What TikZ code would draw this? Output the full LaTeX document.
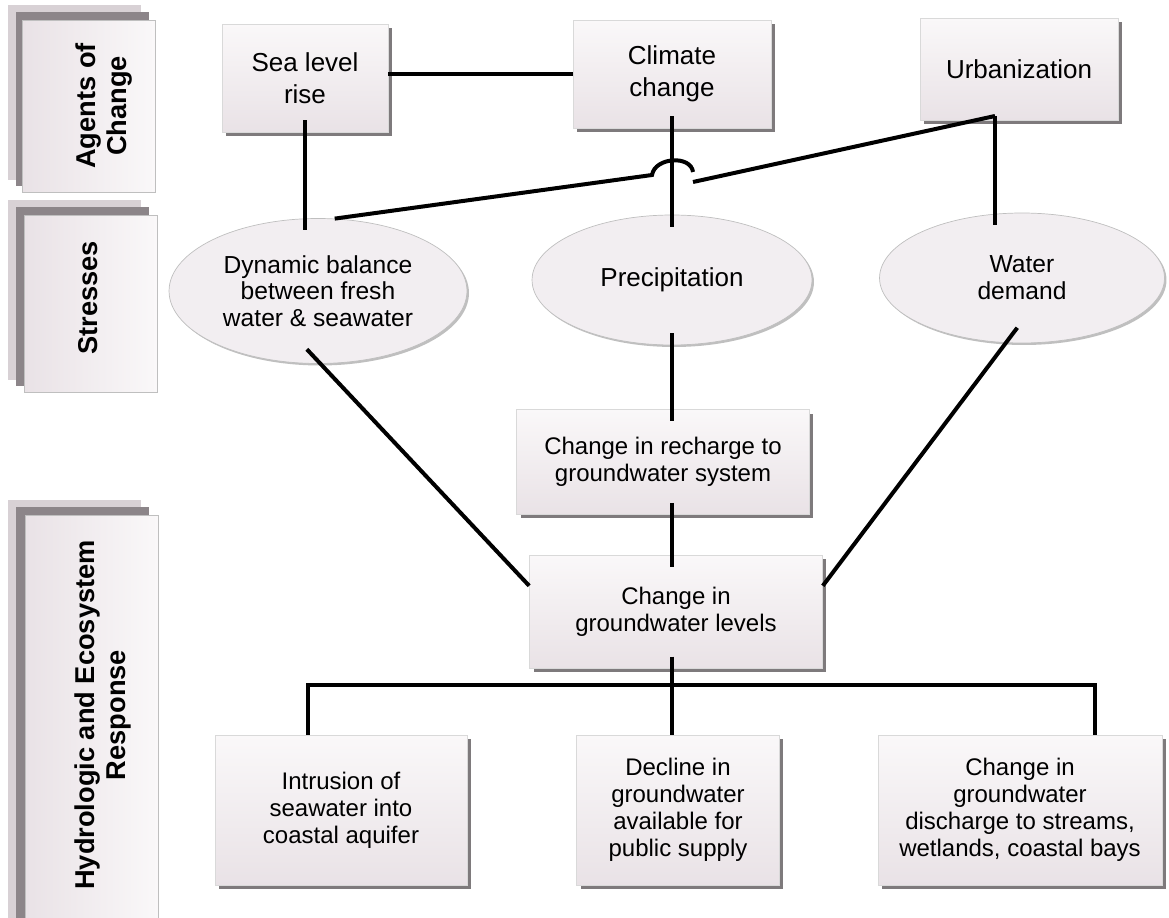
\documentclass[tikz,border=0pt]{standalone}
\usepackage{fontspec}
\setmainfont{Liberation Sans}
\usetikzlibrary{shapes,arrows,calc,positioning,shadows}
\definecolor{boxpink}{HTML}{E9E2E6}
\definecolor{boxtop}{HTML}{FAF8F9}
\definecolor{ovalpink}{HTML}{F2EEF1}
\definecolor{shadowgray}{HTML}{7E7A7C}
\definecolor{layerdark}{HTML}{8C8589}
\definecolor{layerlight}{HTML}{D8D1D5}
\tikzstyle{block} = [rectangle, draw=gray!30, top color=boxtop, bottom color=boxpink, align=center,
inner sep=0pt, drop shadow={shadow xshift=0.08cm, shadow yshift=-0.08cm, fill=shadowgray, opacity=1}]
\tikzstyle{agent} = [block, font=\fontsize{14.8}{18}\selectfont]
\tikzstyle{stress} = [ellipse, draw=gray!50, fill=ovalpink, align=center, inner sep=0pt,
font=\fontsize{14}{15.2}\selectfont,
drop shadow={shadow xshift=0.04cm, shadow yshift=-0.04cm, fill=gray!50, opacity=1}]
\tikzstyle{band} = [rectangle, draw=gray!50, rotate=90, left color=boxpink, right color=boxtop, inner sep=0pt]
\tikzstyle{bandlabel} = [rotate=90, align=center, font=\bfseries\fontsize{15.5}{17.5}\selectfont]
\tikzstyle{line} = [draw, line width=0.08cm]
\tikzstyle{into} = [shorten <=-0.24cm, shorten >=-0.24cm]

\begin{document}
\begin{tikzpicture}[x=0.02cm, y=-0.02cm, font=\fontsize{13.66}{15.4}\selectfont]
\useasboundingbox (0,0) rectangle (1169,918);

% stacked side bands
\foreach \top/\bot in {20/192, 215/392, 515/935} {
  \fill [layerlight] (8,{\top-15}) rectangle (141,{\bot-12});
  \fill [layerdark] (16,{\top-8}) rectangle (149,{\bot-6});
}
\node [band, minimum width=3.44cm, minimum height=2.66cm] (agents) at (88.5,106) {};
\node [band, minimum width=3.54cm, minimum height=2.66cm] (stresses) at (90.5,303.5) {};
\node [band, minimum width=8.4cm, minimum height=2.66cm] (response) at (91.5,725) {};
\node [bandlabel] (agents text) at (104,106) {Agents of\\Change};
\node [bandlabel] (stresses text) at (88,298) {Stresses};
\node [bandlabel] (response text) at (103,715) {Hydrologic and Ecosystem\\Response};

% agents of change
\node [agent, minimum width=3.32cm, minimum height=2.16cm] (sealevel) at (305,78) {Sea level\\rise};
\node [agent, minimum width=3.96cm, minimum height=2.16cm] (climate) at (672,74) {Climate\\change};
\node [agent, minimum width=3.96cm, minimum height=2.04cm] (urban) at (1019,69) {Urbanization};

% stresses
\node [stress, minimum width=5.96cm, minimum height=2.9cm] (balance) at (318,291) {Dynamic balance\\between fresh\\water \& seawater};
\node [stress, minimum width=5.6cm, minimum height=2.6cm, font=\fontsize{14.8}{16}\selectfont] (precip) at (672,280) {Precipitation};
\node [stress, minimum width=5.7cm, minimum height=2.6cm] (demand) at (1022,278) {Water\\demand};

% response
\node [block, minimum width=5.86cm, minimum height=2.1cm] (recharge) at (663,462) {Change in recharge to\\groundwater system};
\node [block, minimum width=5.86cm, minimum height=2.26cm, below=0.8cm of recharge, xshift=0.26cm] (levels) {Change in\\groundwater levels};
\node [block, minimum width=5.04cm, minimum height=3cm] (intrusion) at (341,810) {Intrusion of\\seawater into\\coastal aquifer};
\node [block, minimum width=4.06cm, minimum height=3cm] (decline) at (678,810) {Decline in\\groundwater\\available for\\public supply};
\node [block, minimum width=5.68cm, minimum height=3cm] (discharge) at (1020,810) {Change in\\groundwater\\discharge to streams,\\wetlands, coastal bays};

\coordinate (spine) at (672,0);
\coordinate (urban joint) at (995,116);
\coordinate (hop left) at (652,175);
\coordinate (hop end) at (693,172);
\coordinate (hop right) at (693,182);
\coordinate (bus west) at (308,685);
\coordinate (bus east) at (1095,685);

\path [line] (climate.west) -- (climate.west -| sealevel.east);
\path [line, into] (sealevel.south) -- (sealevel.south |- balance.north);
\path [line, into] (climate.south) -- (climate.south |- precip.north);
\path [line, shorten >=-0.24cm] (urban joint) -- (urban joint |- demand.north);
\path [line] (urban joint) -- (hop right);
\path [line] (balance.77) -- (hop left) .. controls +(3,-18) and +(-2,-17) .. (hop end);
\path [line, into] (precip.south) -- (precip.south |- recharge.north);
\path [line, into] (recharge.south -| spine) -- (levels.north -| spine);
\path [line, shorten <=-0.4cm] (balance.272) -- (levels.170);
\path [line, shorten <=-0.38cm] (demand.256) -- (levels.10);
\path [line, shorten <=-0.24cm] (levels.south -| spine) -- (decline.north -| spine);
\path [line] (intrusion.north -| bus west) -- (bus west) -- (bus east) -- (discharge.north -| bus east);
\end{tikzpicture}
\end{document}
